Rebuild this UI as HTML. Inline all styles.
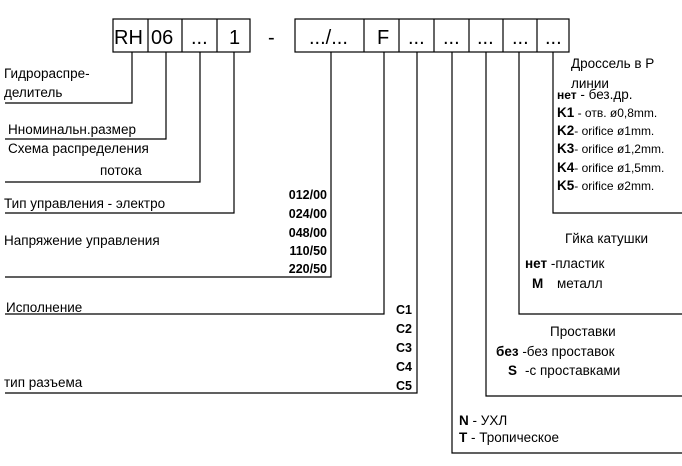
<!DOCTYPE html>
<html><head><meta charset="utf-8"><style>
html,body{margin:0;padding:0;background:#fff;}
svg{display:block;}
text{font-family:"Liberation Sans",Arial,sans-serif;fill:#000;}
.t{font-size:13.5px;}
.b{font-size:12.5px;font-weight:bold;}
.box{font-size:20px;}
</style></head><body>
<svg width="682" height="466" viewBox="0 0 682 466">
<g fill="none" stroke="#000" stroke-width="1.2">
<rect x="113" y="19" width="137" height="33"/>
<line x1="148" y1="19" x2="148" y2="52"/><line x1="182" y1="19" x2="182" y2="52"/><line x1="217" y1="19" x2="217" y2="52"/>
<rect x="295" y="19" width="274" height="33"/>
<line x1="364" y1="19" x2="364" y2="52"/><line x1="399" y1="19" x2="399" y2="52"/><line x1="434" y1="19" x2="434" y2="52"/>
<line x1="469" y1="19" x2="469" y2="52"/><line x1="503" y1="19" x2="503" y2="52"/><line x1="537" y1="19" x2="537" y2="52"/>
<polyline points="132,52 132,103 5,103"/>
<polyline points="166,52 166,139 5,139"/>
<polyline points="200,52 200,182 5,182"/>
<polyline points="234,52 234,213 5,213"/>
<polyline points="331,52 331,277 5,277"/>
<polyline points="384,52 384,314 5,314"/>
<polyline points="417,52 417,393 5,393"/>
<polyline points="452,52 452,453 682,453"/>
<polyline points="486,52 486,396 682,396"/>
<polyline points="519,52 519,314 682,314"/>
<polyline points="553,52 553,213 682,213"/>
</g>
<text class="box" x="114" y="44">RH</text>
<text class="box" x="151" y="44">06</text>
<text class="box" x="191" y="44">...</text>
<text class="box" x="229" y="44">1</text>
<text class="box" x="268" y="44">-</text>
<text class="box" x="309" y="44">.../...</text>
<text class="box" x="377" y="44">F</text>
<text class="box" x="408" y="44">...</text>
<text class="box" x="443" y="44">...</text>
<text class="box" x="477" y="44">...</text>
<text class="box" x="512" y="44">...</text>
<text class="box" x="545" y="44">...</text>

<text class="t" x="4" y="78">Гидрораспре-</text>
<text class="t" x="4" y="97">делитель</text>
<text class="t" x="8" y="134">Нноминальн.размер</text>
<text class="t" x="8" y="153">Схема распределения</text>
<text class="t" x="100" y="175">потока</text>
<text class="t" x="4" y="208">Тип управления - электро</text>
<text class="t" x="4" y="245">Напряжение управления</text>
<g text-anchor="end">
<text class="b" x="327" y="199">012/00</text>
<text class="b" x="327" y="218">024/00</text>
<text class="b" x="327" y="237">048/00</text>
<text class="b" x="327" y="255">110/50</text>
<text class="b" x="327" y="273">220/50</text>
<text class="b" x="412" y="314">C1</text>
<text class="b" x="412" y="333">C2</text>
<text class="b" x="412" y="352">C3</text>
<text class="b" x="412" y="371">C4</text>
<text class="b" x="412" y="390">C5</text>
</g>
<text class="t" x="6" y="312">Исполнение</text>
<text class="t" x="4" y="387">тип разъема</text>

<text class="t" x="571" y="68">Дроссель в Р</text>
<text class="t" x="571" y="88">линии</text>
<text class="t" x="557" y="99"><tspan font-weight="bold" font-size="12">нет</tspan>  - без.др.</text>
<text class="t" x="557" y="117"><tspan font-weight="bold">K1</tspan><tspan font-size="12"> - отв.   ø0,8mm.</tspan></text>
<text class="t" x="557" y="135"><tspan font-weight="bold">K2</tspan><tspan font-size="12">- orifice ø1mm.</tspan></text>
<text class="t" x="557" y="153"><tspan font-weight="bold">K3</tspan><tspan font-size="12">- orifice ø1,2mm.</tspan></text>
<text class="t" x="557" y="172"><tspan font-weight="bold">K4</tspan><tspan font-size="12">- orifice ø1,5mm.</tspan></text>
<text class="t" x="557" y="190"><tspan font-weight="bold">K5</tspan><tspan font-size="12">- orifice ø2mm.</tspan></text>

<text class="t" x="565" y="243">Гйка катушки</text>
<text class="t" x="525" y="268"><tspan font-weight="bold">нет</tspan> -пластик</text>
<text class="t" x="532" y="288"><tspan font-weight="bold">M</tspan></text>
<text class="t" x="557" y="288">металл</text>

<text class="t" x="550" y="336">Проставки</text>
<text class="t" x="496" y="356"><tspan font-weight="bold">без</tspan> -без проставок</text>
<text class="t" x="508" y="375"><tspan font-weight="bold">S</tspan></text>
<text class="t" x="525" y="375">-с проставками</text>

<text class="t" x="459" y="425"><tspan font-weight="bold">N</tspan> - УХЛ</text>
<text class="t" x="459" y="442"><tspan font-weight="bold">T</tspan>  - Тропическое</text>
</svg>
</body></html>
